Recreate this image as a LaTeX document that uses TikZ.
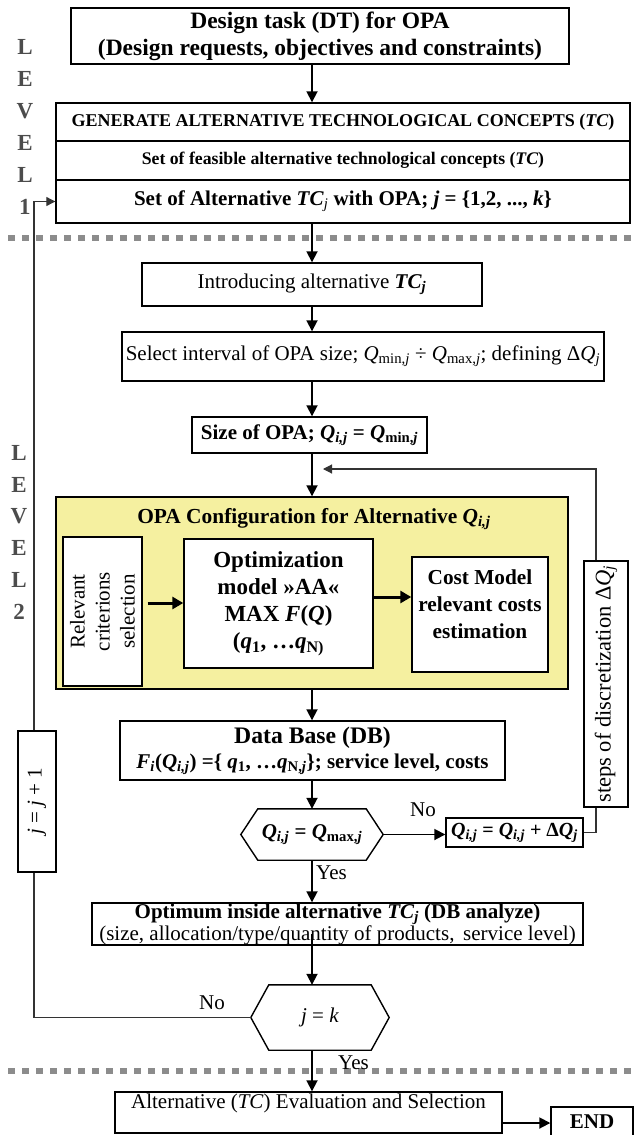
\documentclass[tikz,border=0pt]{standalone}
\usepackage{fontspec}
\setmainfont{Liberation Serif}
\usepackage{tikz}
\usetikzlibrary{calc}
\usetikzlibrary{shapes,arrows.meta}
\definecolor{cfgyellow}{RGB}{245,240,160}

\begin{document}
\begin{tikzpicture}[x=1pt,y=-1pt]
	\tikzstyle{every node}=[font=\fontsize{21}{23}\selectfont, inner sep=0pt]
	\tikzstyle{box}=[draw, line width=1.4pt, fill=white, align=center]
	\tikzstyle{arr}=[line width=1.8pt, -{Triangle[length=11pt,width=11pt]}]
	\tikzstyle{fatarr}=[line width=3pt, -{Triangle[length=11pt,width=12pt]}]
	\tikzstyle{back}=[line width=1.1pt, black!80]
	\tikzstyle{backarr}=[line width=1.1pt, black!80, -{Triangle[length=9pt,width=9pt]}]
	\tikzstyle{lvl}=[font=\fontsize{23}{23}\selectfont\bfseries, text=black!70]
	\tikzstyle{levelsep}=[line width=6pt, black!45, dash pattern=on 7pt off 7pt]
	
	\useasboundingbox (0,0) rectangle (635,1135);
	
	% level borders
	\draw[levelsep] (8,238) -- (632,238);
	\draw[levelsep] (8,1071) -- (632,1071);
	
	\foreach \c [count=\i] in {L,E,V,E,L,1}
		\node[lvl] (lvA\i) at (25,{47+(\i-1)*32}) {\c};
	\foreach \c [count=\i] in {L,E,V,E,L,2}
		\node[lvl] (lvB\i) at (19,{453+(\i-1)*31.8}) {\c};
	
	\coordinate (ax) at (312,0);
	\coordinate (lp) at (34,0);
	\coordinate (fb) at (596,0);
	\coordinate (fbin) at (323,469);
	\coordinate (cfgrow) at (0,603);
	\coordinate (costrow) at (0,597);
	
	% LEVEL 1
	\node[box, minimum width=498, minimum height=56, font=\fontsize{23.5}{27}\selectfont\bfseries] (dt) at (320,36) {Design task (DT) for OPA\\(Design requests, objectives and constraints)};
	\node[box, minimum width=574, minimum height=38, font=\fontsize{18}{20}\selectfont\bfseries] (gen) at (343,122) {GENERATE ALTERNATIVE TECHNOLOGICAL CONCEPTS (\textit{TC})};
	\node[box, minimum width=574, minimum height=39, font=\fontsize{17.7}{20}\selectfont\bfseries] (feas) at (343,160.5) {Set of feasible alternative technological concepts (\textit{TC})};
	\node[box, minimum width=574, minimum height=43, font=\fontsize{21}{23}\selectfont\bfseries] (setk) at (343,201.5) {Set of Alternative \textit{TC}\textsubscript{\textit{\mdseries j}} with OPA; \textit{j} = \{1,2, ..., \textit{k}\}};
	\draw[arr] (dt.south -| ax) -- (gen.north -| ax);
	
	% LEVEL 2
	\node[box, minimum width=340, minimum height=43] (intro) at (312,284.5) {Introducing alternative \textbf{\textit{TC}\textsubscript{\textit{j}}}};
	\node[box, minimum width=482, minimum height=49] (sel) at (363,356.5) {Select interval of OPA size; \textit{Q}\textsubscript{min,\textit{j}} ÷ \textit{Q}\textsubscript{max,\textit{j}}; defining Δ\textit{Q}\textsubscript{\textit{j}}};
	\node[box, minimum width=235, minimum height=36, font=\fontsize{21}{23}\selectfont\bfseries] (size) at (309.5,435) {Size of OPA; \textit{Q}\textsubscript{\textit{i,j}} = \textit{Q}\textsubscript{min,\textit{j}}};
	\draw[arr] (setk.south -| ax) -- (intro.north -| ax);
	\draw[arr] (intro.south -| ax) -- (sel.north -| ax);
	\draw[arr] (sel.south -| ax) -- (size.north -| ax);
	
	\node[draw, line width=1.4pt, fill=cfgyellow, minimum width=512, minimum height=192] (cfg) at (312,593) {};
	\node[font=\fontsize{21.4}{23}\selectfont\bfseries] (cfgt) at (314,519) {OPA Configuration for Alternative \textit{Q}\textsubscript{\textit{i,j}}};
	\node[box, rotate=90, minimum width=149, minimum height=79, font=\fontsize{21}{25}\selectfont] (rel) at (102.5,611.5) {Relevant\\criterions\\selection};
	\node[box, minimum width=189, minimum height=129, font=\fontsize{23}{27}\selectfont\bfseries] (optm) at (278.5,603.5) {Optimization\\model »AA«\\MAX \textit{F}(\textit{Q})\\(\textit{q}\textsubscript{1}, …\textit{q}\textsubscript{N)}};
	\node[box, minimum width=136, minimum height=115] (cost) at (480,614.5) {};
	\node[font=\fontsize{21.3}{27}\selectfont\bfseries, align=center] (costt) at (480,604) {Cost Model\\relevant costs\\estimation};
	\coordinate (relout) at ([xshift=5pt]rel.south);
	\draw[fatarr] (relout |- cfgrow) -- (optm.west |- cfgrow);
	\draw[fatarr] (optm.east |- costrow) -- (cost.west |- costrow);
	\draw[arr] (size.south -| ax) -- (cfg.north -| ax);
	
	\node[box, minimum width=385, minimum height=59, font=\fontsize{21}{25}\selectfont\bfseries] (db) at (312.5,750.5) {{\fontsize{23.7}{25}\selectfont Data Base (DB)}\\\textit{F\textsubscript{i}}(\textit{Q}\textsubscript{\textit{i,j}}) =\{ \textit{q}\textsubscript{1}, …\textit{q}\textsubscript{N,\textit{j}}\}; service level, costs};
	\draw[arr] (cfg.south -| ax) -- (db.north -| ax);
	
	\node[minimum width=142, minimum height=51, font=\fontsize{21}{23}\selectfont\bfseries] (qmax) at (312,834.5) {\textit{Q}\textsubscript{\textit{i,j}} = \textit{Q}\textsubscript{max,\textit{j}}};
	\draw[line width=1.4pt] (qmax.west) -- ([xshift=17pt]qmax.north west) -- ([xshift=-17pt]qmax.north east) -- (qmax.east) -- ([xshift=-17pt]qmax.south east) -- ([xshift=17pt]qmax.south west) -- cycle;
	\draw[arr] (db.south -| ax) -- (qmax.north -| ax);
	
	\node[box, minimum width=137, minimum height=29, font=\fontsize{20}{22}\selectfont\bfseries] (qinc) at (514.5,832.5) {\textit{Q}\textsubscript{\textit{i,j}} = \textit{Q}\textsubscript{\textit{i,j}} + Δ\textit{Q}\textsubscript{\textit{j}}};
	\node (no1) at (423,810) {No};
	\draw[arr] (qmax.east) -- (qinc.west |- qmax.east);
	
	\node[box, rotate=90, minimum width=246, minimum height=44, font=\fontsize{22.5}{24}\selectfont] (steps) at (606,684) {steps of discretization Δ\textit{Q}\textsubscript{\textit{j}}};
	\draw[back] (qinc.east) -| (fb |- steps.west);
	\draw[backarr] (fb |- steps.east) |- (fbin);
	
	\node[anchor=west] (yes1) at (316,873) {Yes};
	\node[box, minimum width=491, minimum height=42, font=\fontsize{21}{20}\selectfont] (optim) at (337.5,924) {\textbf{Optimum inside alternative \textit{TC}\textsubscript{\textit{j}} (DB analyze)}\\(size, allocation/type/quantity of products,\, service level)};
	\draw[arr] (qmax.south -| ax) -- (optim.north -| ax);
	
	\node[minimum width=138, minimum height=65] (jk) at (320,1017.5) {\textit{j} = \textit{k}};
	\draw[line width=1.4pt] (jk.west) -- ([xshift=18pt]jk.north west) -- ([xshift=-18pt]jk.north east) -- (jk.east) -- ([xshift=-18pt]jk.south east) -- ([xshift=18pt]jk.south west) -- cycle;
	\coordinate (optout) at ($(optim.south -| ax)+(0,-12)$);
	\draw[arr] (optout) -- (jk.north -| ax);
	\node (no2) at (212,1003) {No};
	
	% loop back to level 1
	\node[box, rotate=90, minimum width=141, minimum height=38] (jj) at (37,801.5) {\textit{j} = \textit{j} + 1};
	\draw[back] (jk.west) -| (lp |- jj.west);
	\draw[backarr] (lp |- jj.east) |- (setk.west);
	
	% evaluation
	\node[anchor=west] (yes2) at (338,1063) {Yes};
	\node[box, minimum width=387, minimum height=41] (eval) at (308.5,1112.5) {};
	\node (evalt) at (308.5,1103) {Alternative (\textit{TC}) Evaluation and Selection};
	\node[box, minimum width=82, minimum height=30, font=\fontsize{21}{23}\selectfont\bfseries] (fin) at (592,1122) {END};
	\draw[arr] (jk.south -| ax) -- (eval.north -| ax);
	\coordinate (evalout) at ($(eval.east)+(0,10.5)$);
	\draw[arr] (evalout) -- (fin.west |- evalout);
	
\end{tikzpicture}
\end{document}
